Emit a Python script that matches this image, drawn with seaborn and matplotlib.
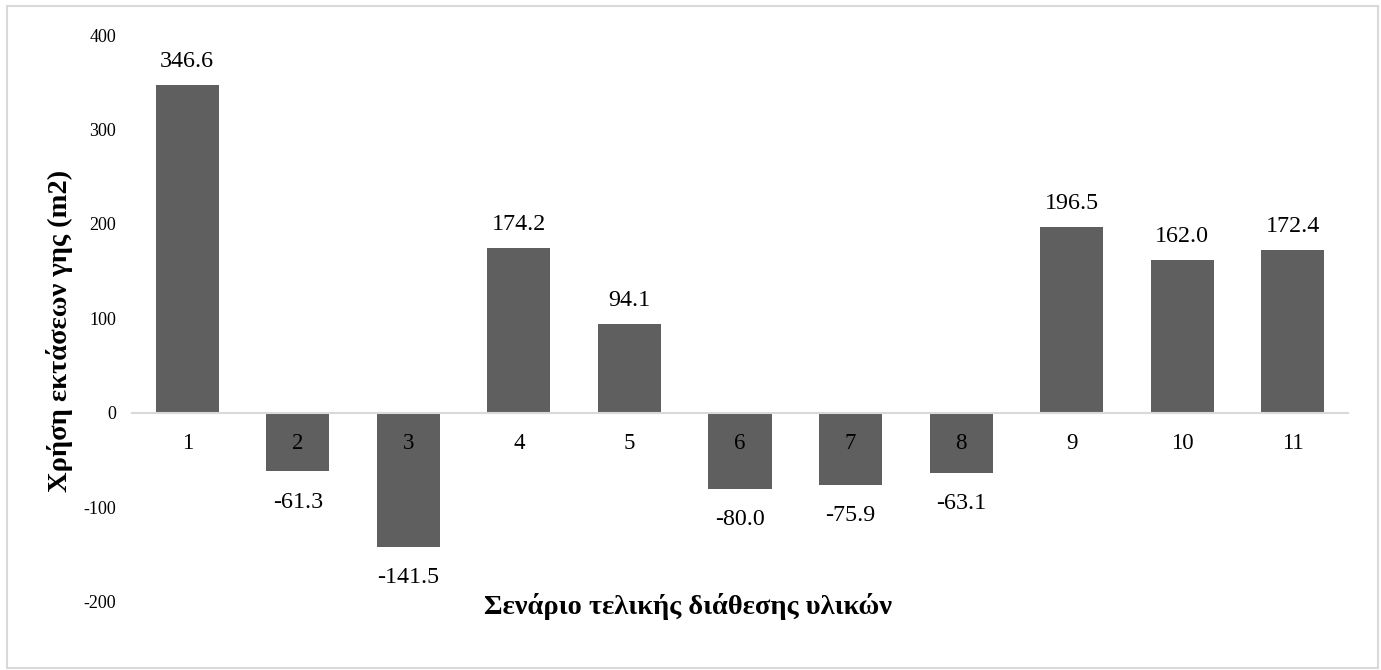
import matplotlib
matplotlib.use("Agg")
import matplotlib.pyplot as plt
import seaborn as sns
import pandas as pd
from matplotlib.patches import Rectangle

# Scenario numbers and land-use change values (m2)
scenarios = ["1", "2", "3", "4", "5", "6", "7", "8", "9", "10", "11"]
land_use = [346.6, -61.3, -141.5, 174.2, 94.1, -80.0, -75.9, -63.1, 196.5, 162.0, 172.4]
y_ticks = [-200, -100, 0, 100, 200, 300, 400]

x_title = "Σενάριο τελικής διάθεσης υλικών"
y_title = "Χρήση εκτάσεων γης (m2)"

sns.set_theme(style="white")
plt.rcParams["font.family"] = ["Liberation Serif", "DejaVu Serif"]

df = pd.DataFrame({"scenario": scenarios, "value": land_use})

W, H = 1381, 670
fig = plt.figure(figsize=(W / 100, H / 100), dpi=100)
fig.patch.set_facecolor("white")

left, right, top, bottom = 132, 1348, 35, 602
ax = fig.add_axes([left / W, 1 - bottom / H, (right - left) / W, (bottom - top) / H])

bar_color = "#5f5f5f"
sns.barplot(data=df, x="scenario", y="value", order=scenarios, color=bar_color,
            width=0.57, saturation=1, ax=ax, edgecolor="none")
for p in ax.patches:
    p.set_zorder(1)

ax.set_ylim(-200, 400)
ax.set_xlim(-0.5, len(scenarios) - 0.5)
ax.set_yticks(y_ticks)
ax.set_yticklabels([str(t) for t in y_ticks])
ax.set_xlabel("")
ax.set_ylabel("")

for side in ("top", "right", "left"):
    ax.spines[side].set_visible(False)
ax.spines["bottom"].set_position(("data", 0))
ax.spines["bottom"].set_color("#d9d9d9")
ax.spines["bottom"].set_linewidth(1.5)
ax.spines["bottom"].set_zorder(3)

# Category labels sit on top of the negative bars
ax.xaxis.set_zorder(5)
ax.tick_params(axis="y", length=0, pad=11.5, labelsize=13, labelcolor="#000000")
ax.tick_params(axis="x", length=0, pad=14.5, labelsize=16.5, labelcolor="#000000")
ax.grid(False)

# Value labels above positive bars and below negative ones
for i, v in enumerate(land_use):
    off = 17 if v >= 0 else -22.5
    ax.annotate(f"{v:.1f}", (i, v), xytext=(0, off), textcoords="offset points",
                ha="center", va="center", fontsize=17.3, color="#000000")

fig.text(688 / W, 1 - 607 / H, x_title, ha="center", va="center",
         fontsize=20.5, fontweight="bold", color="#000000")
fig.text(60 / W, 1 - 331 / H, y_title, ha="center", va="center", rotation=90,
         fontsize=20.5, fontweight="bold", color="#000000")

# Light chart-area frame
fig.patches.append(Rectangle((7 / W, 1 - 668 / H), (1377.5 - 7) / W, (668 - 6) / H,
                             transform=fig.transFigure, fill=False,
                             edgecolor="#d9d9d9", linewidth=1.5))

fig.savefig("out.png", dpi=100, facecolor="white")
